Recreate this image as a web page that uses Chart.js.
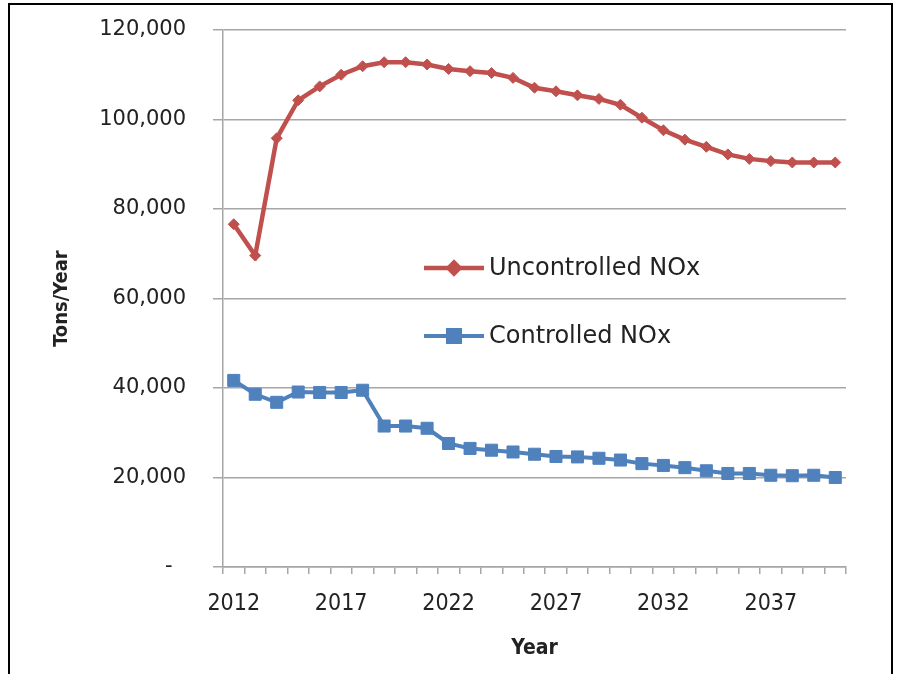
<!DOCTYPE html>
<html>
<head>
<meta charset="utf-8">
<script src="https://cdn.jsdelivr.net/npm/chart.js@4.4.1/dist/chart.umd.min.js"></script>
<style>
  html, body { margin: 0; padding: 0; background: #fff; }
  #wrap { width: 897px; height: 674px; }
</style>
</head>
<body>
<div id="wrap"><canvas id="chart" width="897" height="674"></canvas></div>
<script>
const years = ['2012','2013','2014','2015','2016','2017','2018','2019','2020','2021',
  '2022','2023','2024','2025','2026','2027','2028','2029','2030','2031',
  '2032','2033','2034','2035','2036','2037','2038','2039','2040'];

const uncontrolled = [76600, 69600, 95800, 104300, 107400, 110000, 111900, 112800, 112800, 112300,
  111300, 110800, 110400, 109300, 107100, 106300, 105400, 104600, 103300, 100400,
  97600, 95500, 93900, 92200, 91200, 90700, 90400, 90400, 90400];

const controlled = [41700, 38600, 36800, 39100, 39000, 39000, 39500, 31500, 31500, 31000,
  27600, 26500, 26100, 25700, 25200, 24700, 24600, 24300, 23900, 23100,
  22700, 22200, 21500, 20900, 20900, 20500, 20400, 20500, 20000];

const yTicks = [0, 20000, 40000, 60000, 80000, 100000, 120000];

const red = '#C0504D';
const blue = '#4F81BD';
const gridColor = '#a6a6a6';
const textColor = '#222222';

// outer frame round the whole picture
const framePlugin = {
  id: 'frame',
  afterDraw(chart) {
    const c = chart.ctx;
    c.save();
    c.strokeStyle = '#000';
    c.lineWidth = 2;
    c.strokeRect(9, 4, 883, 690);
    c.restore();
  }
};

// legend sitting inside the plot, like the Excel one
const insideLegend = {
  id: 'insideLegend',
  afterDatasetsDraw(chart) {
    const c = chart.ctx;
    const rows = [268, 336];
    chart.data.datasets.forEach((ds, i) => {
      const y = rows[i];
      c.save();
      c.strokeStyle = ds.borderColor;
      c.lineWidth = ds.borderWidth;
      c.beginPath();
      c.moveTo(424, y);
      c.lineTo(484, y);
      c.stroke();
      Chart.helpers.drawPoint(c, {
        pointStyle: ds.pointStyle,
        radius: ds.pointRadius,
        borderWidth: ds.pointBorderWidth
      }, 454, y);
      c.fillStyle = ds.borderColor;
      c.fill();
      c.fillStyle = textColor;
      c.font = '24px "DejaVu Sans"';
      c.textBaseline = 'middle';
      c.textAlign = 'left';
      c.fillText(ds.label, 489, y + 1);
      c.restore();
    });
  }
};

const ctx = document.getElementById('chart').getContext('2d');

new Chart(ctx, {
  type: 'line',
  data: {
    labels: years,
    datasets: [{
      label: 'Uncontrolled NOx',
      data: uncontrolled,
      borderColor: red,
      backgroundColor: red,
      borderWidth: 4.5,
      pointStyle: 'rectRot',
      pointRadius: 5.5,
      pointBorderWidth: 1,
      pointBackgroundColor: red,
      pointBorderColor: red,
      tension: 0
    }, {
      label: 'Controlled NOx',
      data: controlled,
      borderColor: blue,
      backgroundColor: blue,
      borderWidth: 4,
      pointStyle: 'rect',
      pointRadius: 8.5,
      pointBorderWidth: 1,
      pointBackgroundColor: blue,
      pointBorderColor: blue,
      tension: 0
    }]
  },
  options: {
    responsive: false,
    animation: false,
    devicePixelRatio: 1,
    layout: { padding: { left: 10, top: 30, right: 51, bottom: 0 } },
    plugins: {
      legend: { display: false },
      tooltip: { enabled: false }
    },
    scales: {
      x: {
        type: 'category',
        offset: true,
        grid: {
          display: true,
          offset: true,
          drawOnChartArea: false,
          drawTicks: true,
          tickLength: 7,
          color: gridColor,
          lineWidth: 1.5
        },
        border: { display: true, color: gridColor, width: 1.5 },
        ticks: {
          autoSkip: false,
          maxRotation: 0,
          padding: 16,
          color: textColor,
          font: { family: '"DejaVu Sans Condensed", "DejaVu Sans"', size: 23 },
          callback: function(value, index) {
            return index % 5 === 0 ? years[index] : '';
          }
        },
        title: {
          display: true,
          text: 'Year',
          color: textColor,
          font: { family: '"DejaVu Sans Condensed", "DejaVu Sans"', size: 21, weight: 'bold' },
          padding: { top: 0, bottom: 13 }
        },
        afterFit: function(scale) {
          scale.height = 107;
          scale.paddingLeft = 0;
          scale.paddingRight = 0;
        }
      },
      y: {
        min: 0,
        max: 120000,
        afterBuildTicks: function(scale) {
          scale.ticks = yTicks.map(v => ({ value: v }));
        },
        grid: {
          color: gridColor,
          lineWidth: 1.5,
          tickLength: 10,
          drawTicks: true
        },
        border: { display: true, color: gridColor, width: 1.5 },
        ticks: {
          padding: 27,
          color: textColor,
          font: { family: '"DejaVu Sans"', size: 21 },
          callback: function(value) {
            return value === 0 ? '-  ' : value.toLocaleString('en-US');
          }
        },
        title: {
          display: true,
          text: 'Tons/Year',
          color: textColor,
          font: { family: '"DejaVu Sans Condensed", "DejaVu Sans"', size: 20, weight: 'bold' },
          padding: { top: 40, bottom: 0 }
        },
        afterFit: function(scale) {
          scale.width = 213;
          scale.paddingTop = 0;
          scale.paddingBottom = 0;
        }
      }
    }
  },
  plugins: [framePlugin, insideLegend]
});
</script>
</body>
</html>
